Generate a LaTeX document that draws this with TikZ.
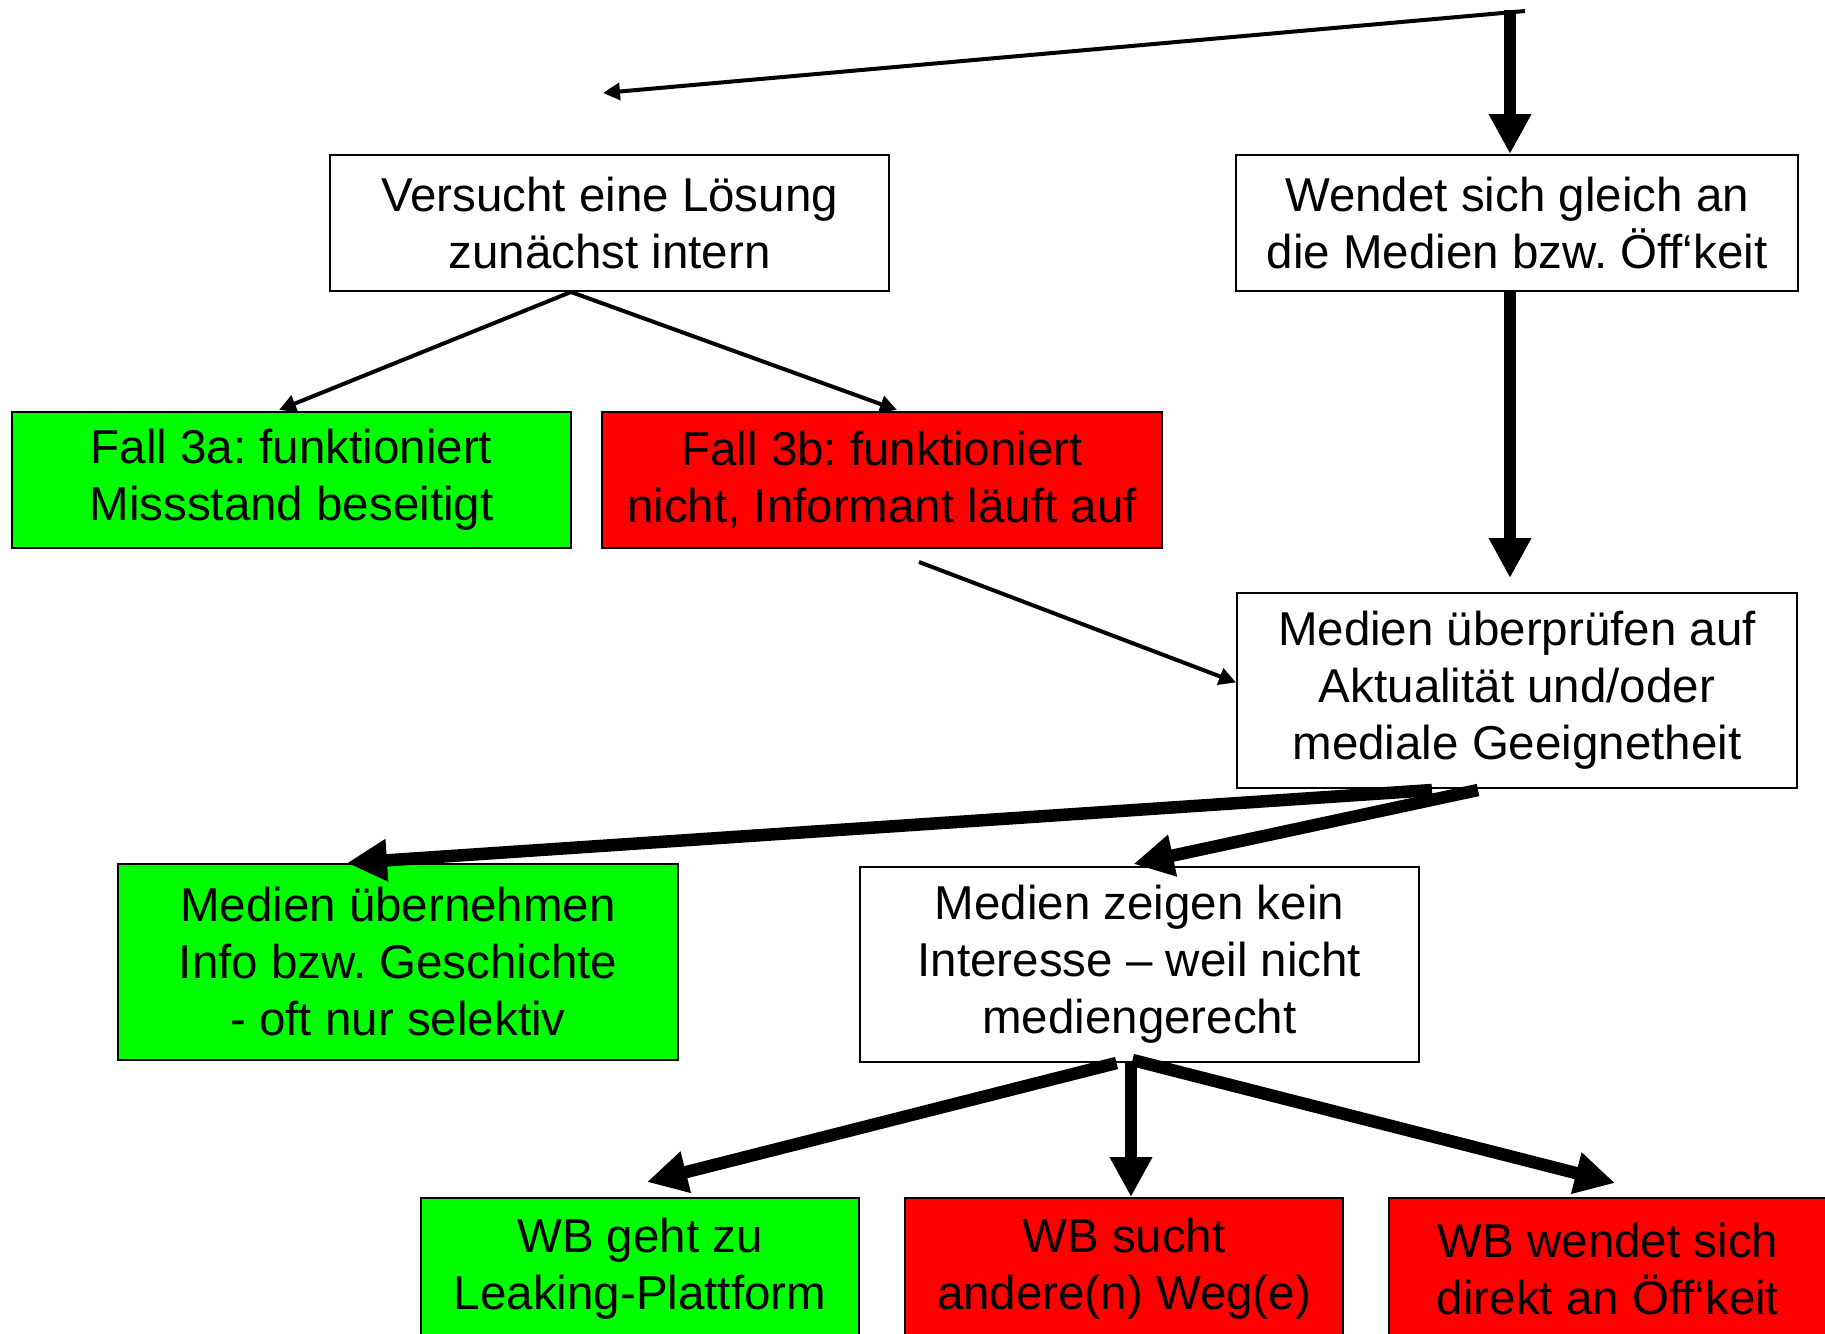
\documentclass[tikz,border=0pt]{standalone}
\usepackage{fontspec}
\setmainfont{Liberation Sans}
\usetikzlibrary{arrows.meta,calc}
\frenchspacing
\definecolor{boxgreen}{RGB}{0,255,0}
\definecolor{boxred}{RGB}{255,0,0}
\tikzset{
  box/.style={draw=black, line width=2pt, rectangle, inner sep=0pt, align=center,
    font=\fontsize{47.5}{57}\selectfont\frenchspacing, minimum height=136pt},
  greenbox/.style={box, fill=boxgreen},
  redbox/.style={box, fill=boxred},
  whitebox/.style={box, fill=white},
  thinarrow/.style={line width=4pt, -{Triangle[length=17pt,width=17pt]}},
  thickarrow/.style={line width=12.5pt, -{Triangle[length=40pt,width=40pt]}},
}
\begin{document}
\begin{tikzpicture}[x=1pt,y=-1pt]
\clip (0,0) rectangle (1825,1333);
\fill[white] (0,0) rectangle (1825,1333);

% boxes
\node[whitebox, minimum width=559pt] (b1) at (609.5,223) {Versucht eine Lösung\\zunächst intern};
\node[whitebox, minimum width=562pt] (b2) at (1517,223) {Wendet sich gleich an\\die Medien bzw. Öff‘keit};
\node[greenbox, minimum width=559pt] (b3a) at (291.5,480) {Fall 3a: funktioniert\\Missstand beseitigt};
\node[redbox, minimum width=560pt] (b3b) at (882,480) {Fall 3b: funktioniert\\nicht, Informant läuft auf};
\node[whitebox, minimum width=560pt, minimum height=195pt] (b5) at (1517,690.5) {Medien überprüfen auf\\Aktualität und/oder\\mediale Geeignetheit};
\node[greenbox, minimum width=560pt, minimum height=196pt] (b6) at (398,962) {Medien übernehmen\\Info bzw. Geschichte\\- oft nur selektiv};
\node[whitebox, minimum width=559pt, minimum height=195pt] (b7) at (1139.5,964.5) {Medien zeigen kein\\Interesse – weil nicht\\mediengerecht};
\node[greenbox, minimum width=438pt, minimum height=142pt] (b8) at (640,1269) {WB geht zu\\Leaking-Plattform};
\node[redbox, minimum width=438pt, minimum height=142pt] (b9) at (1124,1269) {WB sucht\\andere(n) Weg(e)};
\node[redbox, minimum width=438pt, minimum height=142pt] (b10) at (1608,1269) {WB wendet sich\\direkt an Öff‘keit};

% free ends
\coordinate (top) at (1510,11);
\coordinate (topend) at (1525,11);
\coordinate (leftend) at (603,93);
\coordinate (m1) at (1510,578);
\coordinate (f3b) at (919,562);

% connectors
\draw[thinarrow] (topend) -- (leftend);
\draw[thickarrow] ([yshift=1pt]top) -- (top |- b2.north);
\draw[thickarrow] (top |- b2.south) -- (m1);

\draw[thinarrow] ($(b1.south)+(-38.5,0)$) -- ($(b3a.north)+(-12.5,-1)$);
\draw[thinarrow] ($(b1.south)+(-38.5,0)$) -- ($(b3b.north)+(15,-1)$);
\draw[thinarrow] (f3b) -- ($(b5.west)+(0,-8)$);

\draw[thickarrow] ($(b5.south)+(-85,1)$) -- ($(b6.north)+(-51,0)$);
\draw[thickarrow] ($(b5.south)+(-39,1)$) -- ($(b7.north)+(-6,-2)$);

\draw[thickarrow] ($(b7.south)+(-23,0)$) -- ($(b8.north)+(7,-15)$);
\draw[thickarrow] ($(b7.south)+(-8.5,0)$) -- ($(b9.north)+(7,0)$);
\draw[thickarrow] ($(b7.south)+(-7,-3)$) -- ($(b10.north)+(7,-14)$);
\end{tikzpicture}
\end{document}
